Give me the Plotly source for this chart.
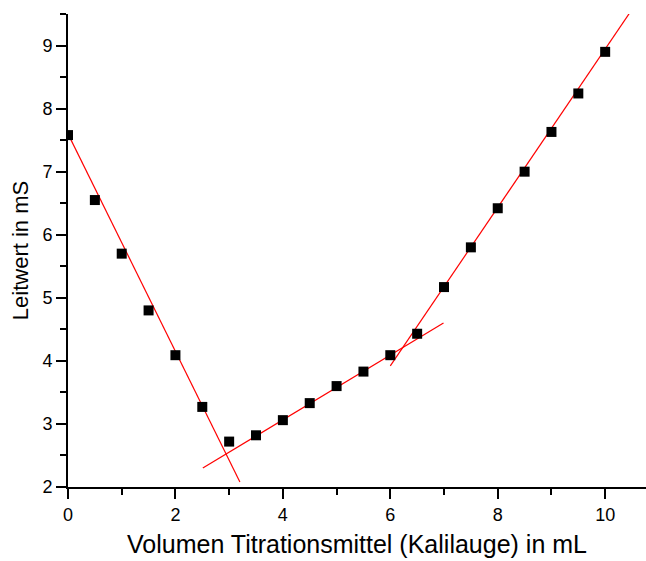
import plotly.graph_objects as go

# Measured data
volume_ml = [0, 0.5, 1, 1.5, 2, 2.5, 3, 3.5, 4, 4.5, 5, 5.5, 6, 6.5, 7, 7.5, 8, 8.5, 9, 9.5, 10]
leitwert_ms = [7.58, 6.55, 5.70, 4.80, 4.09, 3.27, 2.72, 2.82, 3.06, 3.33, 3.60, 3.83, 4.09,
               4.43, 5.17, 5.80, 6.42, 7.00, 7.63, 8.24, 8.90]

# Fit lines (end points)
fit1_x = [0.0, 3.2]
fit1_y = [7.60, 2.08]
fit2_x = [2.51, 6.99]
fit2_y = [2.30, 4.60]
fit3_x = [6.0, 10.45]
fit3_y = [3.92, 9.51]

fig = go.Figure()
for fx, fy in [(fit1_x, fit1_y), (fit2_x, fit2_y), (fit3_x, fit3_y)]:
    fig.add_trace(go.Scatter(x=fx, y=fy, mode="lines",
                             line=dict(color="#ff0000", width=1.2),
                             showlegend=False, hoverinfo="skip"))
fig.add_trace(go.Scatter(x=volume_ml, y=leitwert_ms, mode="markers",
                         marker=dict(symbol="square", size=10, color="black"),
                         showlegend=False))

font = "Liberation Sans, Arial, sans-serif"
fig.update_layout(
    width=646, height=561,
    margin=dict(l=68, r=0, t=14, b=74),
    plot_bgcolor="white", paper_bgcolor="white",
    font=dict(family=font, color="black"),
    xaxis=dict(range=[0, 10.76], tickvals=[0, 2, 4, 6, 8, 10],
               showline=True, linecolor="black", linewidth=2,
               ticks="outside", ticklen=10, tickwidth=2, tickcolor="black",
               minor=dict(ticks="outside", tickvals=[1, 3, 5, 7, 9], ticklen=6, tickwidth=2, tickcolor="black"),
               showgrid=False, zeroline=False,
               tickfont=dict(size=18, family=font),
               title=dict(text="Volumen Titrationsmittel (Kalilauge) in mL",
                          font=dict(size=25, family=font), standoff=12)),
    yaxis=dict(range=[2, 9.5], tickvals=[2, 3, 4, 5, 6, 7, 8, 9],
               showline=True, linecolor="black", linewidth=2,
               ticks="outside", ticklen=10, tickwidth=2, tickcolor="black",
               minor=dict(ticks="outside", tickvals=[2.5, 3.5, 4.5, 5.5, 6.5, 7.5, 8.5, 9.5], ticklen=6, tickwidth=2, tickcolor="black"),
               showgrid=False, zeroline=False,
               tickfont=dict(size=18, family=font),
               title=dict(text="Leitwert in mS", font=dict(size=22, family=font), standoff=8)),
)

fig.write_html("out.html")
